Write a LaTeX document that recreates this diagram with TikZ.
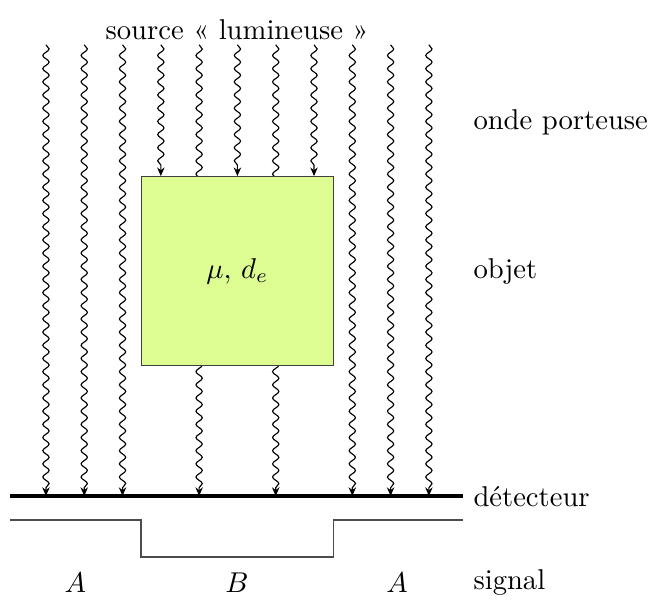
\documentclass[tikz,border=0pt]{standalone}
\usepackage{tikz}
\usetikzlibrary{arrows.meta,decorations.pathmorphing,positioning}
\definecolor{objfill}{RGB}{221,253,147}

\begin{document}
\begin{tikzpicture}[x=0.47cm, y=0.47cm,
  onde/.style={decorate, -{Stealth[length=3pt, width=2.6pt]},
               decoration={snake, amplitude=1.1pt, segment length=4.6pt, post length=2.5pt}},
  objbox/.style={rectangle, draw=black!75, fill=objfill, minimum width=2.35cm,
                 minimum height=2.32cm, inner sep=0pt},
  lbl/.style={anchor=west, inner sep=0pt},
  sig/.style={draw=black!70, line width=0.5pt},
]
  \useasboundingbox (0,0) rectangle (17,-15.67);

  % ---- source and waves ----
  \node (src) at (6.19,-0.78) {source «~lumineuse~»};
  \coordinate (detl) at (0.26,-12.95);
  \coordinate (detr) at (12.09,-12.95);

  % waves that pass beside the object, or through it
  \foreach \i in {0,1,2,4,6,8,9,10}
    \draw[onde] (1.2+\i,-1.17) -- (1.2+\i,-12.95);

  % the object
  \node[objbox] (obj) at (6.2,-7.08) {$\mu,\, d_e$};

  % waves stopped by the object
  \foreach \i in {3,5,7}
    \draw[onde] (1.2+\i,-1.17) -- (1.2+\i,-1.17 |- obj.north);

  % ---- detector and signal ----
  \draw[very thick] (detl) -- (detr);
  \draw[sig] (0.26,-13.58) -- (obj.west |- 0,-13.58) -- (obj.west |- 0,-14.54)
    -- (obj.east |- 0,-14.54) -- (obj.east |- 0,-13.58) -- (12.09,-13.58);

  \node (a1) at (1.97,-15.22) {$A$};
  \node (b) at (6.19,-15.22) {$B$};
  \node (a2) at (10.37,-15.22) {$A$};

  % ---- labels on the right ----
  \node[lbl] (onde) at (12.35,-3.19) {onde porteuse};
  \node[lbl] (objlbl) at (12.35,-7.10) {objet};
  \node[lbl] (det) at (12.35,-12.98) {détecteur};
  \node[lbl] (signal) at (12.35,-15.22) {signal};
\end{tikzpicture}
\end{document}
